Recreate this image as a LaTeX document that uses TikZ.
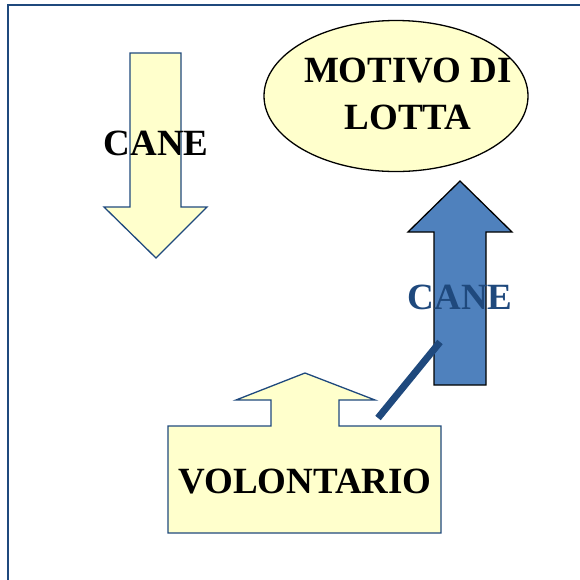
\documentclass[tikz,border=0pt]{standalone}
\usepackage{fontspec}
\setmainfont{Liberation Serif}
\usepackage{xcolor}
\usetikzlibrary{positioning,shapes.geometric}
\definecolor{paleyellow}{HTML}{FFFFCC}
\definecolor{darkblue}{HTML}{1F497D}
\definecolor{midblue}{HTML}{4F81BD}
\newcommand{\bigbf}{\fontsize{37}{44}\selectfont\bfseries}

\begin{document}
\begin{tikzpicture}[x=1pt, y=-1pt, line join=miter,
    yellowshape/.style={draw=darkblue, fill=paleyellow, line width=1.3pt},
    blueshape/.style={draw=black, fill=midblue, line width=1.3pt},
    label/.style={font=\bigbf, inner sep=0pt, align=center}]
  \useasboundingbox (0,0) rectangle (580,579);
  % frame
  \draw[darkblue, line width=2.4pt] (8,585) -- (8,5) -- (590,5);
  % down arrow
  \draw[yellowshape] (130,53) -- (181,53) -- (181,207) -- (207,207) -- (156,258)
    -- (104,207) -- (130,207) -- cycle;
  \node[label] (dogleft) at (156,143) {CANE};
  % oval
  \node[draw=black, fill=paleyellow, line width=1.3pt, ellipse, minimum width=264pt,
    minimum height=151pt, inner sep=0pt] (motive) at (396,96) {};
  \node[label] (motivetext) at (408,94) {MOTIVO DI\\[3pt]LOTTA};
  % up arrow
  \draw[blueshape] (434,385) -- (434,232) -- (408,232) -- (460,181) -- (512,232)
    -- (486,232) -- (486,385) -- cycle;
  \node[label, text=darkblue] (dogright) at (460,297) {CANE};
  % volunteer callout
  \draw[yellowshape] (168,426) -- (271,426) -- (271,400) -- (236,400) -- (305,373)
    -- (375,400) -- (339,400) -- (339,426) -- (441,426) -- (441,533) -- (168,533) -- cycle;
  \node[label] (volunteer) at (305,482) {VOLONTARIO};
  \coordinate (pointer) at (440,342);
  \coordinate (pointerend) at (378,418);
  \draw[darkblue, line width=7pt] (pointer) -- (pointerend);
\end{tikzpicture}
\end{document}
